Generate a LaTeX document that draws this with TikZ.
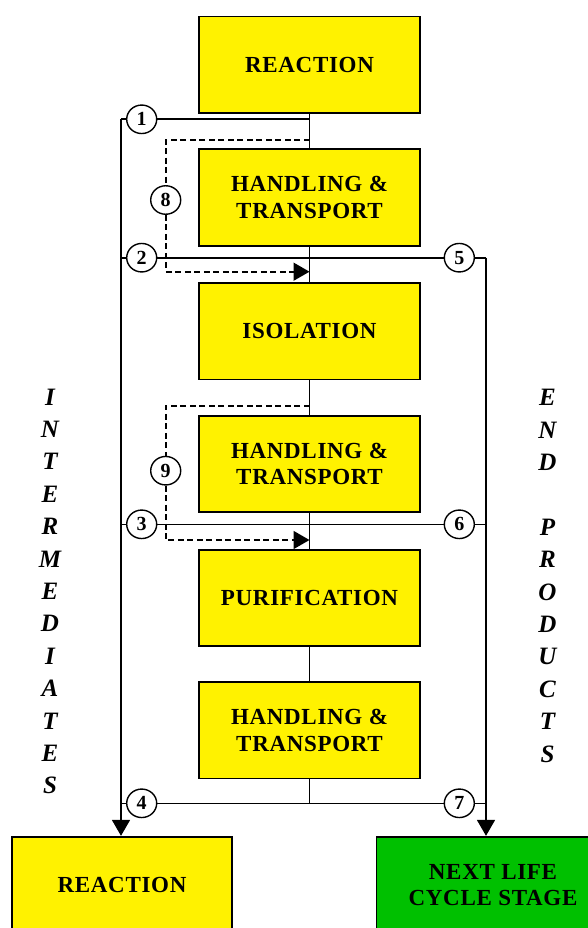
\documentclass[tikz,border=0pt]{standalone}
\usepackage{fontspec}
\setmainfont{Liberation Serif}
\newfontfamily\boxfont{Liberation Serif}[LetterSpace=3]
\usetikzlibrary{arrows.meta,shapes.geometric}
\definecolor{lifegreen}{RGB}{0,192,0}

\begin{document}
\begin{tikzpicture}[x=1pt,y=-1pt,
	stage/.style={draw,line width=1.8pt,fill=yellow,minimum width=221pt,minimum height=96.5pt,
		align=center,inner sep=0pt,font=\boxfont\bfseries\fontsize{23}{26.7}\selectfont},
	num/.style={draw,ellipse,fill=white,line width=1.4pt,inner sep=0pt,minimum width=30pt,
		minimum height=28.5pt,font=\bfseries\fontsize{20}{20}\selectfont},
	flow/.style={line width=1.6pt},
	loop/.style={line width=1.6pt,dash pattern=on 6pt off 3.5pt},
	tip/.style={-{Triangle[length=16pt,width=18pt]}},
	side/.style={inner sep=0pt,font=\bfseries\itshape\fontsize{25}{25}\selectfont}]
\useasboundingbox (0,0) rectangle (588,928);
\clip (0,0) rectangle (588,928);

\node[stage] (reac) at (309.5,64.7) {REACTION};
\node[stage] (hand1) at (309.5,197.5) {HANDLING \&\\TRANSPORT};
\node[stage] (isol) at (309.5,331.3) {ISOLATION};
\node[stage] (hand2) at (309.5,463.9) {HANDLING \&\\TRANSPORT};
\node[stage] (puri) at (309.5,598) {PURIFICATION};
\node[stage] (hand3) at (309.5,730.3) {HANDLING \&\\TRANSPORT};
\node[stage,minimum width=220.6pt] (back) at (122,885) {REACTION};
\node[stage,fill=lifegreen,minimum width=233pt] (next) at (493,885) {NEXT LIFE\\CYCLE STAGE};

\coordinate (l1) at (121,119.3);
\coordinate (m1) at (309.5,119.3);
\coordinate (l2) at (121,257.7);
\coordinate (r2) at (486,257.7);
\coordinate (l3) at (121,524.3);
\coordinate (r3) at (486,524.3);
\coordinate (l4) at (121,803.3);
\coordinate (m4) at (309.5,803.3);
\coordinate (r4) at (486,803.3);
\coordinate (d8a) at (309.5,140);
\coordinate (d8b) at (309.5,271.7);
\coordinate (d9a) at (309.5,405.7);
\coordinate (d9b) at (309.5,540);

\draw[flow] (reac) -- (hand1) (hand1) -- (isol) (isol) -- (hand2)
	(hand2) -- (puri) (puri) -- (hand3) (hand3) -- (m4);

\node[num] (n1) at (141.7,119.3) {1};
\node[num] (n2) at (141.7,257.7) {2};
\node[num] (n3) at (141.7,524.3) {3};
\node[num] (n4) at (141.7,803.3) {4};
\node[num] (n5) at (459.3,257.7) {5};
\node[num] (n6) at (459.3,524.3) {6};
\node[num] (n7) at (459.3,803.3) {7};
\node[num] (n8) at (165.7,200) {8};
\node[num] (n9) at (165.7,470.7) {9};

\draw[flow] (l1) -- (n1) (n1) -- (m1);
\draw[flow] (l2) -- (n2) (n2) -- (n5) (n5) -- (r2);
\draw[flow] (l3) -- (n3) (n3) -- (n6) (n6) -- (r3);
\draw[flow] (l4) -- (n4) (n4) -- (n7) (n7) -- (r4);
\draw[flow,tip] (l1) -- (l1 |- back.north);
\draw[flow,tip] (r2) -- (r2 |- next.north);

\draw[loop] (d8a) -| (n8);
\draw[loop,tip] (n8) |- (d8b);
\draw[loop] (d9a) -| (n9);
\draw[loop,tip] (n9) |- (d9b);

\foreach \l [count=\i from 0] in {I,N,T,E,R,M,E,D,I,A,T,E,S}
	\node[side] (inter\i) at (50,397+32.4*\i) {\l};
\foreach \l [count=\i from 0] in {E,N,D,{},P,R,O,D,U,C,T,S}
	\node[side] (prod\i) at (547.5,397.5+32.4*\i) {\l};
\end{tikzpicture}
\end{document}
